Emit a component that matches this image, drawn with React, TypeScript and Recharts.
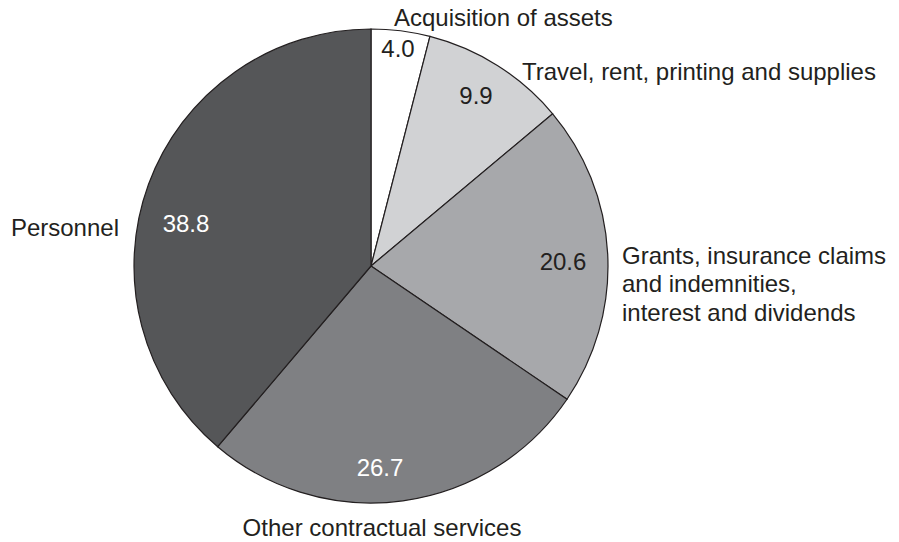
import React from "react";
import { PieChart, Pie, Cell } from "recharts";

const categories = [
  "Acquisition of assets",
  "Travel, rent, printing and supplies",
  "Grants, insurance claims and indemnities, interest and dividends",
  "Other contractual services",
  "Personnel",
];
const values = [4.0, 9.9, 20.6, 26.7, 38.8];
const valueLabels = ["4.0", "9.9", "20.6", "26.7", "38.8"];
const outerLabelLines = [
  ["Acquisition of assets"],
  ["Travel, rent, printing and supplies"],
  ["Grants, insurance claims", "and indemnities,", "interest and dividends"],
  ["Other contractual services"],
  ["Personnel"],
];

const fills = ["#ffffff", "#d1d2d4", "#a7a8ab", "#7f8083", "#555658"];
const valueTextColors = ["#231f20", "#231f20", "#231f20", "#ffffff", "#ffffff"];

// label layout (offsets from pie centre)
const innerOffsets = [
  [27, -218],
  [105, -171],
  [192, -5],
  [9, 201],
  [-185, -43],
];
const outerOffsets = [
  [23, -249],
  [151, -195],
  [251, -11],
  [11, 261],
  [-252, -39],
];
const outerAnchors = ["start", "start", "start", "middle", "end"];
const lineHeight = 28.5;

const data = categories.map((name, i) => ({ name, value: values[i] }));

const FONT = "'Liberation Sans', Arial, Helvetica, sans-serif";

const renderLabel = (props: any) => {
  const { cx, cy, index } = props;
  const [ix, iy] = innerOffsets[index];
  const [ox, oy] = outerOffsets[index];
  const lines = outerLabelLines[index];
  return (
    <g key={`lbl-${index}`}>
      <text
        x={cx + ix}
        y={cy + iy}
        textAnchor="middle"
        dominantBaseline="central"
        fill={valueTextColors[index]}
        fontSize={24}
        fontFamily={FONT}
      >
        {valueLabels[index]}
      </text>
      {lines.map((ln, j) => (
        <text
          key={j}
          x={cx + ox}
          y={cy + oy + j * lineHeight}
          textAnchor={outerAnchors[index] as any}
          dominantBaseline="central"
          fill="#231f20"
          fontSize={24}
          fontFamily={FONT}
        >
          {ln}
        </text>
      ))}
    </g>
  );
};

export default function App() {
  return (
    <div style={{ position: "absolute", left: 0, top: 0, width: 899, height: 542, background: "#fff" }}>
      <PieChart width={899} height={542} margin={{ top: 0, right: 0, bottom: 0, left: 0 }}>
        <Pie
          data={data}
          dataKey="value"
          nameKey="name"
          cx={371}
          cy={266}
          outerRadius={237}
          startAngle={90}
          endAngle={-270}
          stroke="#231f20"
          strokeWidth={1.2}
          label={renderLabel}
          labelLine={false}
          isAnimationActive={false}
        >
          {data.map((d, i) => (
            <Cell key={d.name} fill={fills[i]} />
          ))}
        </Pie>
      </PieChart>
    </div>
  );
}
